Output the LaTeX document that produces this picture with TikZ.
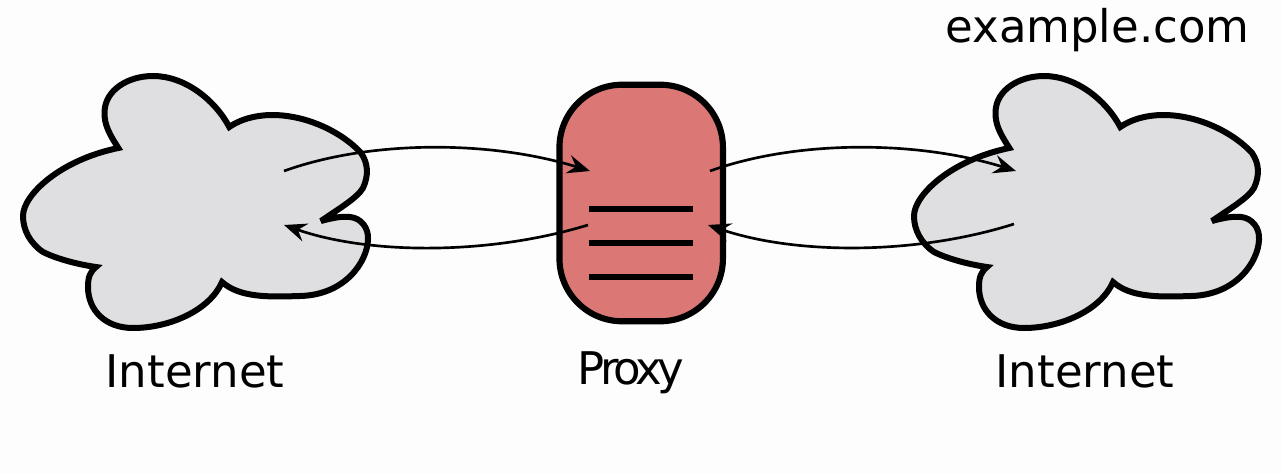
\documentclass[tikz,border=0pt]{standalone}
\usepackage{fontspec}
\setmainfont{DejaVu Sans}
\newfontfamily\tightfont[LetterSpace=-9.5]{DejaVu Sans}
\usetikzlibrary{arrows.meta}
\definecolor{cloudfill}{HTML}{DFDFE1}
\definecolor{proxyfill}{HTML}{DB7876}
\definecolor{pagebg}{HTML}{FDFDFD}
\newcommand{\cloudshape}{%
(118.3,148) .. controls (110,135) and (104,125) .. (104.5,112)
 .. controls (105,90) and (128,76) .. (153,76)
 .. controls (185,76) and (215,100) .. (229.3,127)
 .. controls (245,116) and (265,115) .. (272,115)
 .. controls (310,115) and (345,135) .. (361,153)
 .. controls (368,163) and (369,175) .. (363,188)
 .. controls (357,198) and (340,208) .. (321,221)
 .. controls (332,218) and (342,216) .. (350,217)
 .. controls (361,218) and (369,228) .. (368,240)
 .. controls (367,262) and (345,295) .. (300,296)
 .. controls (270,297) and (240,298) .. (222,282)
 .. controls (210,310) and (170,328) .. (133,328)
 .. controls (105,328) and (88,310) .. (88,287)
 .. controls (88,277) and (90,272) .. (96,267)
 .. controls (75,264) and (55,258) .. (43,252)
 .. controls (30,243) and (23,230) .. (23,216)
 .. controls (23,195) and (60,160) .. (118.3,148) -- cycle}
\tikzset{
  x=.75pt, y=-.75pt,
  cloudline/.style={draw=black, fill=cloudfill, line width=4.5pt, miter limit=3.5},
  capsule/.style={draw=black, fill=proxyfill, line width=4.6pt, rounded corners=47pt,
    minimum width=122.6pt, minimum height=177.4pt, inner sep=0pt},
  bar/.style={draw=black, line width=4.5pt},
  flow/.style={draw=black, line width=2pt, -{Stealth[length=17pt,width=14pt,inset=6pt]}},
  label/.style={font=\fontsize{33.75pt}{40pt}\selectfont, anchor=base, inner sep=0pt},
}
\begin{document}
\begin{tikzpicture}
\useasboundingbox (0,0) rectangle (1282,474);
\fill[pagebg] (0,0) rectangle (1282,474);
\path[cloudline] \cloudshape;
\path[cloudline, shift={(891,0)}] \cloudshape;
\node[capsule] (proxy) at (641.2,203) {};
\draw[bar] (589,209) -- (693,209);
\draw[bar] (589,243) -- (693,243);
\draw[bar] (589,277) -- (693,277);
\coordinate (a1) at (284,171);
\coordinate (a2) at (590,171);
\coordinate (b1) at (588,225);
\coordinate (b2) at (284,225);
\coordinate (c1) at (710,171);
\coordinate (c2) at (1016,171);
\coordinate (d1) at (1014,224);
\coordinate (d2) at (708,225);
\draw[flow] (a1) .. controls (370,140) and (490,140) .. (a2);
\draw[flow] (b1) .. controls (490,255) and (370,255) .. (b2);
\draw[flow] (c1) .. controls (796,140) and (916,140) .. (c2);
\draw[flow] (d1) .. controls (916,255) and (796,255) .. (d2);
\node[label] (inet1) at (195,387) {Internet};
\node[label, font=\fontsize{33.75pt}{40pt}\tightfont] (prox) at (631,384) {Proxy};
\node[label] (inet2) at (1085,387) {Internet};
\node[label] (site) at (1097.5,43) {example.com};
\end{tikzpicture}
\end{document}
